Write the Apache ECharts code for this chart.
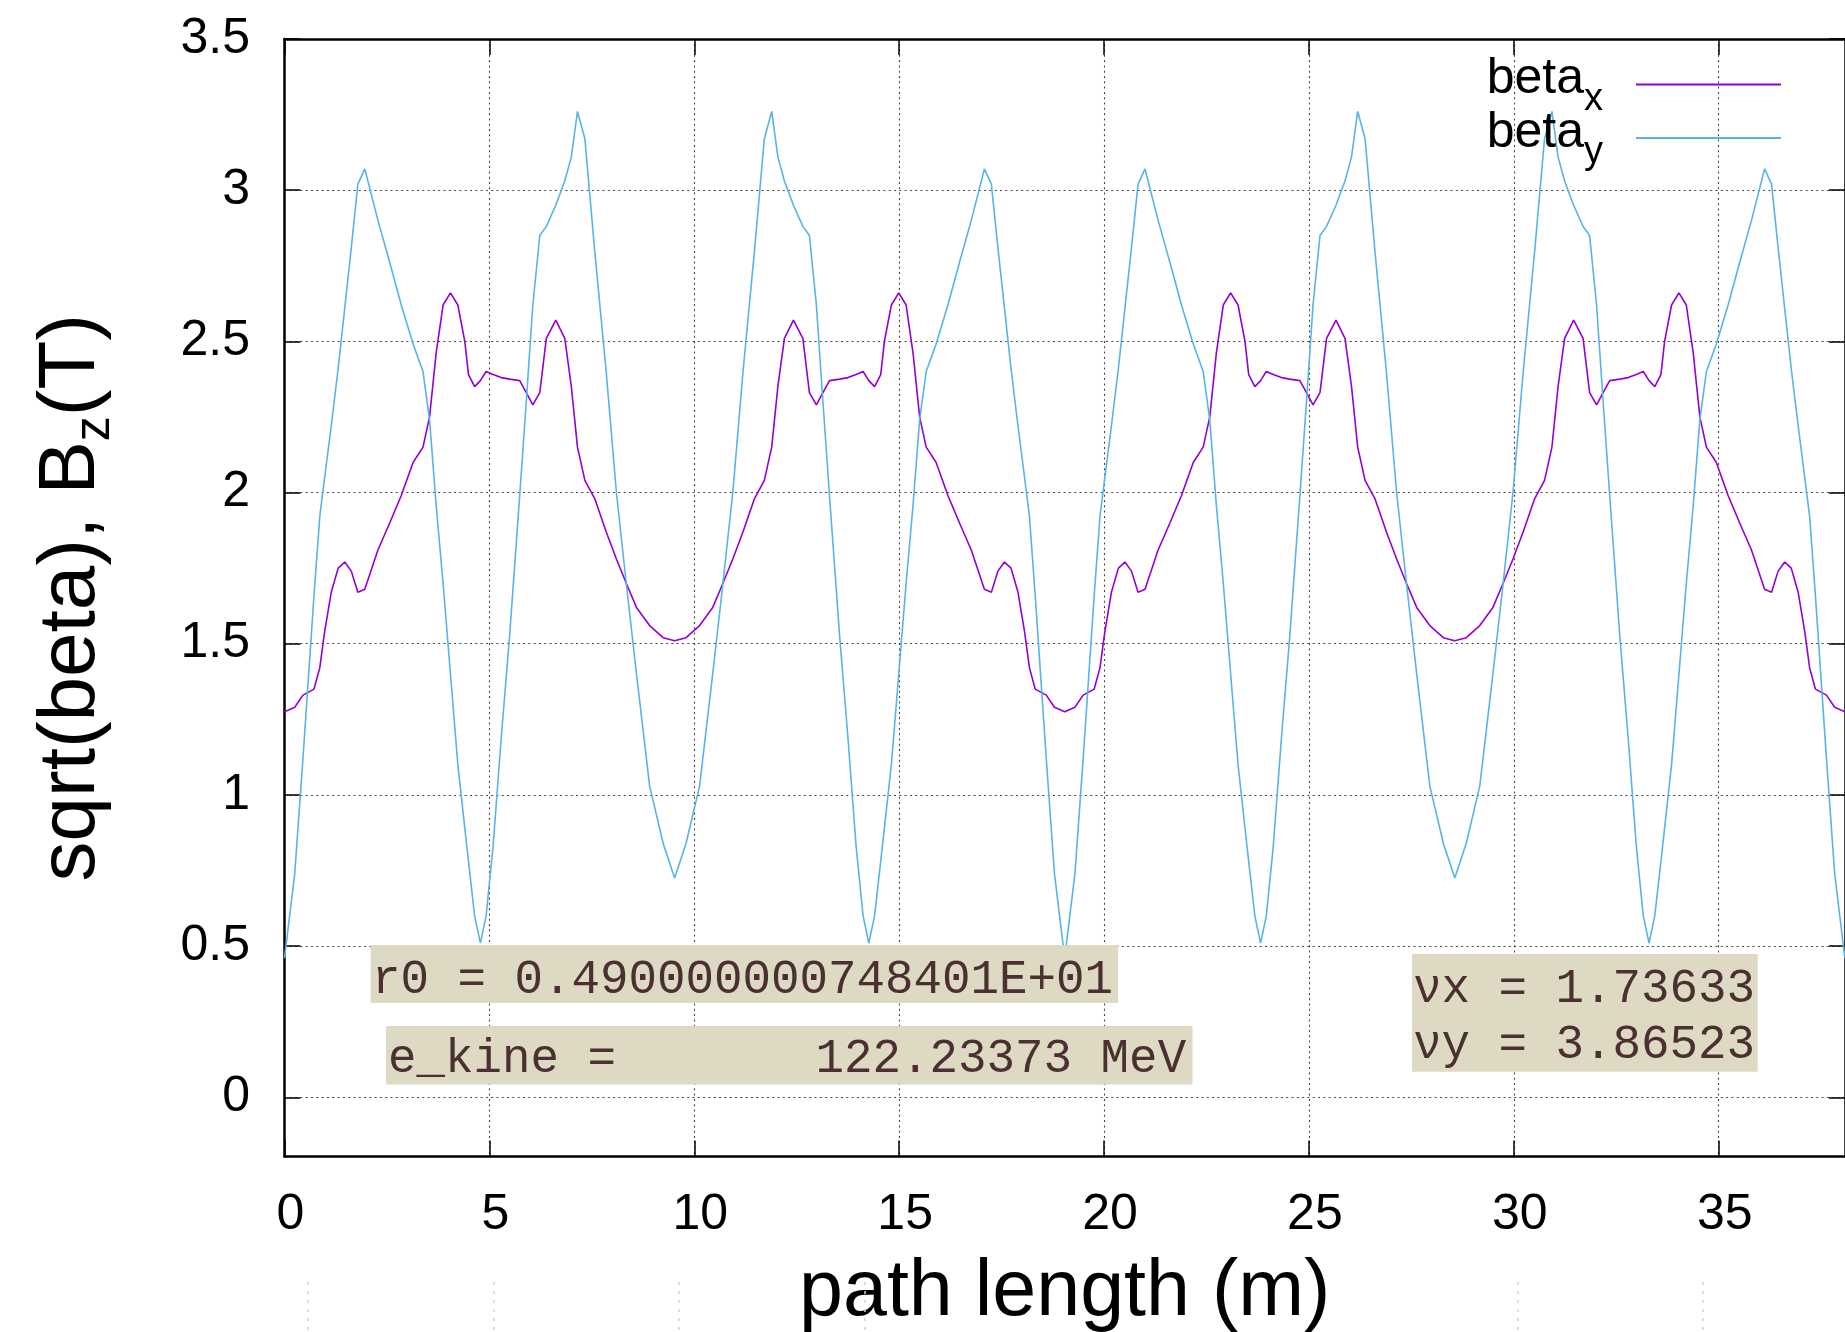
<!DOCTYPE html>
<html>
<head>
<meta charset="utf-8">
<script src="https://cdn.jsdelivr.net/npm/echarts@6/dist/echarts.min.js"></script>
<style>
html,body{margin:0;padding:0;background:#ffffff;}
#chart{width:1845px;height:1332px;}
</style>
</head>
<body>
<div id="chart"></div>
<script>
// ---- data ----
const pathLength = [
  0, 0.25, 0.45, 0.72, 0.86, 0.98, 1.14, 1.31, 1.47, 1.63, 1.79, 1.96, 2.28, 2.57, 2.85, 3.14, 3.38, 3.54, 3.70, 3.87, 4.05, 4.23, 4.40, 4.49, 4.64, 4.78, 4.92, 5.09, 5.29, 5.49, 5.74, 5.90, 6.06, 6.23, 6.39, 6.62, 6.84, 7.00, 7.15, 7.33, 7.57, 7.85, 8.10, 8.34, 8.59, 8.91, 9.24, 9.52,
  9.80, 10.13, 10.45, 10.70, 10.94, 11.19, 11.47, 11.71, 11.89, 12.04, 12.20, 12.42, 12.65, 12.81, 12.98, 13.14, 13.30, 13.55, 13.75, 13.95, 14.12, 14.26, 14.40, 14.55, 14.64, 14.81, 14.99, 15.17, 15.34, 15.50, 15.66, 15.90, 16.19, 16.47, 16.76, 17.08, 17.25, 17.41, 17.57, 17.73, 17.90, 18.06, 18.18, 18.32, 18.59, 18.79, 19.04,
  19.29, 19.49, 19.76, 19.90, 20.02, 20.18, 20.35, 20.51, 20.67, 20.83, 21.00, 21.32, 21.61, 21.89, 22.18, 22.42, 22.58, 22.74, 22.91, 23.09, 23.27, 23.44, 23.53, 23.68, 23.82, 23.96, 24.13, 24.33, 24.53, 24.78, 24.94, 25.10, 25.27, 25.43, 25.66, 25.88, 26.04, 26.19, 26.37, 26.61, 26.89, 27.14, 27.38, 27.63, 27.95, 28.28, 28.56,
  28.84, 29.17, 29.49, 29.74, 29.98, 30.23, 30.51, 30.75, 30.93, 31.08, 31.24, 31.46, 31.69, 31.85, 32.02, 32.18, 32.34, 32.59, 32.79, 32.99, 33.16, 33.30, 33.44, 33.59, 33.68, 33.85, 34.03, 34.21, 34.38, 34.54, 34.70, 34.94, 35.23, 35.51, 35.80, 36.12, 36.29, 36.45, 36.61, 36.77, 36.94, 37.10, 37.22, 37.36, 37.63, 37.83, 38.08
];
const betaX = [
  1.275, 1.29, 1.33, 1.35, 1.42, 1.54, 1.67, 1.75, 1.77, 1.74, 1.67, 1.68, 1.81, 1.90, 1.99, 2.10, 2.15, 2.25, 2.46, 2.62, 2.66, 2.62, 2.50, 2.39, 2.35, 2.37, 2.40, 2.39, 2.38, 2.375, 2.37, 2.33, 2.29, 2.33, 2.51, 2.57, 2.51, 2.35, 2.15, 2.04, 1.98, 1.87, 1.78, 1.70, 1.62, 1.56, 1.52, 1.51,
  1.52, 1.56, 1.62, 1.70, 1.78, 1.87, 1.98, 2.04, 2.15, 2.35, 2.51, 2.57, 2.51, 2.33, 2.29, 2.33, 2.37, 2.375, 2.38, 2.39, 2.40, 2.37, 2.35, 2.39, 2.50, 2.62, 2.66, 2.62, 2.46, 2.25, 2.15, 2.10, 1.99, 1.90, 1.81, 1.68, 1.67, 1.74, 1.77, 1.75, 1.67, 1.54, 1.42, 1.35, 1.33, 1.29, 1.275,
  1.29, 1.33, 1.35, 1.42, 1.54, 1.67, 1.75, 1.77, 1.74, 1.67, 1.68, 1.81, 1.90, 1.99, 2.10, 2.15, 2.25, 2.46, 2.62, 2.66, 2.62, 2.50, 2.39, 2.35, 2.37, 2.40, 2.39, 2.38, 2.375, 2.37, 2.33, 2.29, 2.33, 2.51, 2.57, 2.51, 2.35, 2.15, 2.04, 1.98, 1.87, 1.78, 1.70, 1.62, 1.56, 1.52, 1.51,
  1.52, 1.56, 1.62, 1.70, 1.78, 1.87, 1.98, 2.04, 2.15, 2.35, 2.51, 2.57, 2.51, 2.33, 2.29, 2.33, 2.37, 2.375, 2.38, 2.39, 2.40, 2.37, 2.35, 2.39, 2.50, 2.62, 2.66, 2.62, 2.46, 2.25, 2.15, 2.10, 1.99, 1.90, 1.81, 1.68, 1.67, 1.74, 1.77, 1.75, 1.67, 1.54, 1.42, 1.35, 1.33, 1.29, 1.275
];
const betaY = [
  0.46, 0.74, 1.12, 1.66, 1.92, 2.05, 2.22, 2.41, 2.61, 2.81, 3.02, 3.07, 2.90, 2.76, 2.62, 2.49, 2.40, 2.24, 1.96, 1.70, 1.40, 1.10, 0.89, 0.78, 0.60, 0.51, 0.60, 0.83, 1.19, 1.52, 1.99, 2.30, 2.62, 2.85, 2.88, 2.95, 3.03, 3.11, 3.26, 3.17, 2.80, 2.40, 2.00, 1.70, 1.40, 1.03, 0.84, 0.725,
  0.84, 1.03, 1.40, 1.70, 2.00, 2.40, 2.80, 3.17, 3.26, 3.11, 3.03, 2.95, 2.88, 2.85, 2.62, 2.30, 1.99, 1.52, 1.19, 0.83, 0.60, 0.51, 0.60, 0.78, 0.89, 1.10, 1.40, 1.70, 1.96, 2.24, 2.40, 2.49, 2.62, 2.76, 2.90, 3.07, 3.02, 2.81, 2.61, 2.41, 2.22, 2.05, 1.92, 1.66, 1.12, 0.74, 0.46,
  0.74, 1.12, 1.66, 1.92, 2.05, 2.22, 2.41, 2.61, 2.81, 3.02, 3.07, 2.90, 2.76, 2.62, 2.49, 2.40, 2.24, 1.96, 1.70, 1.40, 1.10, 0.89, 0.78, 0.60, 0.51, 0.60, 0.83, 1.19, 1.52, 1.99, 2.30, 2.62, 2.85, 2.88, 2.95, 3.03, 3.11, 3.26, 3.17, 2.80, 2.40, 2.00, 1.70, 1.40, 1.03, 0.84, 0.725,
  0.84, 1.03, 1.40, 1.70, 2.00, 2.40, 2.80, 3.17, 3.26, 3.11, 3.03, 2.95, 2.88, 2.85, 2.62, 2.30, 1.99, 1.52, 1.19, 0.83, 0.60, 0.51, 0.60, 0.78, 0.89, 1.10, 1.40, 1.70, 1.96, 2.24, 2.40, 2.49, 2.62, 2.76, 2.90, 3.07, 3.02, 2.81, 2.61, 2.41, 2.22, 2.05, 1.92, 1.66, 1.12, 0.74, 0.46
];
const xTicks = [0, 5, 10, 15, 20, 25, 30, 35];
const yTicks = [0, 0.5, 1, 1.5, 2, 2.5, 3, 3.5];
const seriesNames = ['betax', 'betay'];
const seriesSub = ['x', 'y'];
const annotR0 = 'r0 = 0.490000000748401E+01';
const annotEkine = 'e_kine =       122.23373 MeV';
const annotNu = ['\u03bdx = 1.73633', '\u03bdy = 3.86523'];
const xTitle = 'path length (m)';

// ---- chart ----
const SANS = '"Liberation Sans", Arial, Helvetica, sans-serif';
const MONO = '"Liberation Mono", "Courier New", monospace';
const BOX = '#ddd9c3';
const INK = '#4a3030';

const chart = echarts.init(document.getElementById('chart'), null, {renderer: 'canvas'});

const gridLine = {show: true, lineStyle: {color: '#444444', width: 1.1, type: [2, 3.3]}};
const tickStyle = {inside: true, length: 16, lineStyle: {color: '#000', width: 1.5}};
const axisLineStyle = {show: true, onZero: false, lineStyle: {color: '#000', width: 2.5}};

const option = {
  animation: false,
  backgroundColor: '#ffffff',
  grid: {left: 284.5, top: 38.9, width: 1560.4, height: 1117.7, containLabel: false, outerBoundsMode: 'none'},
  xAxis: [
    {
      type: 'value', position: 'bottom', min: 0, max: 38.08,
      axisLine: axisLineStyle,
      axisTick: Object.assign({customValues: xTicks}, tickStyle),
      splitLine: gridLine,
      axisLabel: {customValues: xTicks, margin: 59, verticalAlign: 'middle', padding: [0, 0, 0, 12],
                  fontSize: 50, fontFamily: SANS, color: '#000'},
      name: xTitle, nameLocation: 'middle', nameGap: 137,
      nameTextStyle: {fontSize: 79, fontFamily: SANS, color: '#000', verticalAlign: 'middle'}
    },
    {
      type: 'value', position: 'top', min: 0, max: 38.08,
      axisLine: axisLineStyle,
      axisTick: Object.assign({customValues: xTicks}, tickStyle),
      splitLine: {show: false},
      axisLabel: {show: false}
    }
  ],
  yAxis: [
    {
      type: 'value', position: 'left', min: -0.196, max: 3.5,
      axisLine: axisLineStyle,
      axisTick: Object.assign({customValues: yTicks}, tickStyle),
      splitLine: gridLine,
      axisLabel: {customValues: yTicks, margin: 34.5, fontSize: 50, fontFamily: SANS, color: '#000'},
      name: '{m|sqrt(beta), B}{s|z}{m|(T)}', nameLocation: 'middle', nameGap: 212.5, nameRotate: 90,
      nameTextStyle: {
        verticalAlign: 'middle', color: '#000',
        rich: {
          m: {fontSize: 80, fontFamily: SANS, color: '#000', lineHeight: 80},
          s: {fontSize: 50, fontFamily: SANS, color: '#000', height: 33, verticalAlign: 'bottom'}
        }
      }
    },
    {
      type: 'value', position: 'right', min: -0.196, max: 3.5,
      axisLine: axisLineStyle,
      axisTick: Object.assign({customValues: yTicks}, tickStyle),
      splitLine: {show: false},
      axisLabel: {show: false}
    }
  ],
  legend: {
    orient: 'vertical', right: 58, top: 49.4, align: 'right',
    itemWidth: 145, itemHeight: 14, itemGap: -10.4, padding: 5,
    data: seriesNames,
    itemStyle: {opacity: 0, color: 'transparent', borderWidth: 0},
    lineStyle: {width: 2},
    formatter: function (name) {
      const i = seriesNames.indexOf(name);
      return '{m|beta}{s|' + seriesSub[i] + '}';
    },
    textStyle: {
      rich: {
        m: {fontSize: 50, fontFamily: SANS, color: '#000', lineHeight: 50, padding: [0, 0, 10, 0]},
        s: {fontSize: 38, fontFamily: SANS, color: '#000', height: 20, verticalAlign: 'bottom', padding: [0, 28, 0, 0]}
      }
    }
  },
  series: [
    {
      name: seriesNames[0], type: 'line', xAxisIndex: 0, yAxisIndex: 0,
      symbol: 'none', smooth: false, clip: true,
      data: pathLength.map((s, i) => [s, betaX[i]]),
      lineStyle: {color: '#9400d3', width: 1.6},
      itemStyle: {color: '#9400d3'}
    },
    {
      name: seriesNames[1], type: 'line', xAxisIndex: 0, yAxisIndex: 0,
      symbol: 'none', smooth: false, clip: true,
      data: pathLength.map((s, i) => [s, betaY[i]]),
      lineStyle: {color: '#56b4e9', width: 1.6},
      itemStyle: {color: '#56b4e9'}
    }
  ],
  graphic: [
    {type: 'rect', z: 100, shape: {x: 370.6, y: 945, width: 747.4, height: 58}, style: {fill: BOX}},
    {type: 'text', z: 101, x: 372, y: 980.4,
     style: {text: annotR0, fontSize: 47.5, fontFamily: MONO, fill: INK, align: 'left', verticalAlign: 'middle'}},
    {type: 'rect', z: 100, shape: {x: 386, y: 1026, width: 806.5, height: 58.5}, style: {fill: BOX}},
    {type: 'text', z: 101, x: 388, y: 1059.1,
     style: {text: annotEkine, fontSize: 47.5, fontFamily: MONO, fill: INK, align: 'left', verticalAlign: 'middle'}},
    {type: 'rect', z: 100, shape: {x: 1412, y: 954, width: 345.7, height: 117.7}, style: {fill: BOX}},
    {type: 'text', z: 101, x: 1413, y: 989.1,
     style: {text: annotNu[0], fontSize: 47.5, fontFamily: MONO, fill: INK, align: 'left', verticalAlign: 'middle'}},
    {type: 'text', z: 101, x: 1413, y: 1045.7,
     style: {text: annotNu[1], fontSize: 47.5, fontFamily: MONO, fill: INK, align: 'left', verticalAlign: 'middle'}}
  ].concat([308, 494, 679, 865, 1518, 1703].map(function (px) {
    return {type: 'line', z: 1, shape: {x1: px, y1: 1282, x2: px, y2: 1332},
            style: {stroke: '#d4d4d4', lineWidth: 1.5, lineDash: [3, 6]}};
  }))
};

chart.setOption(option);
</script>
</body>
</html>
